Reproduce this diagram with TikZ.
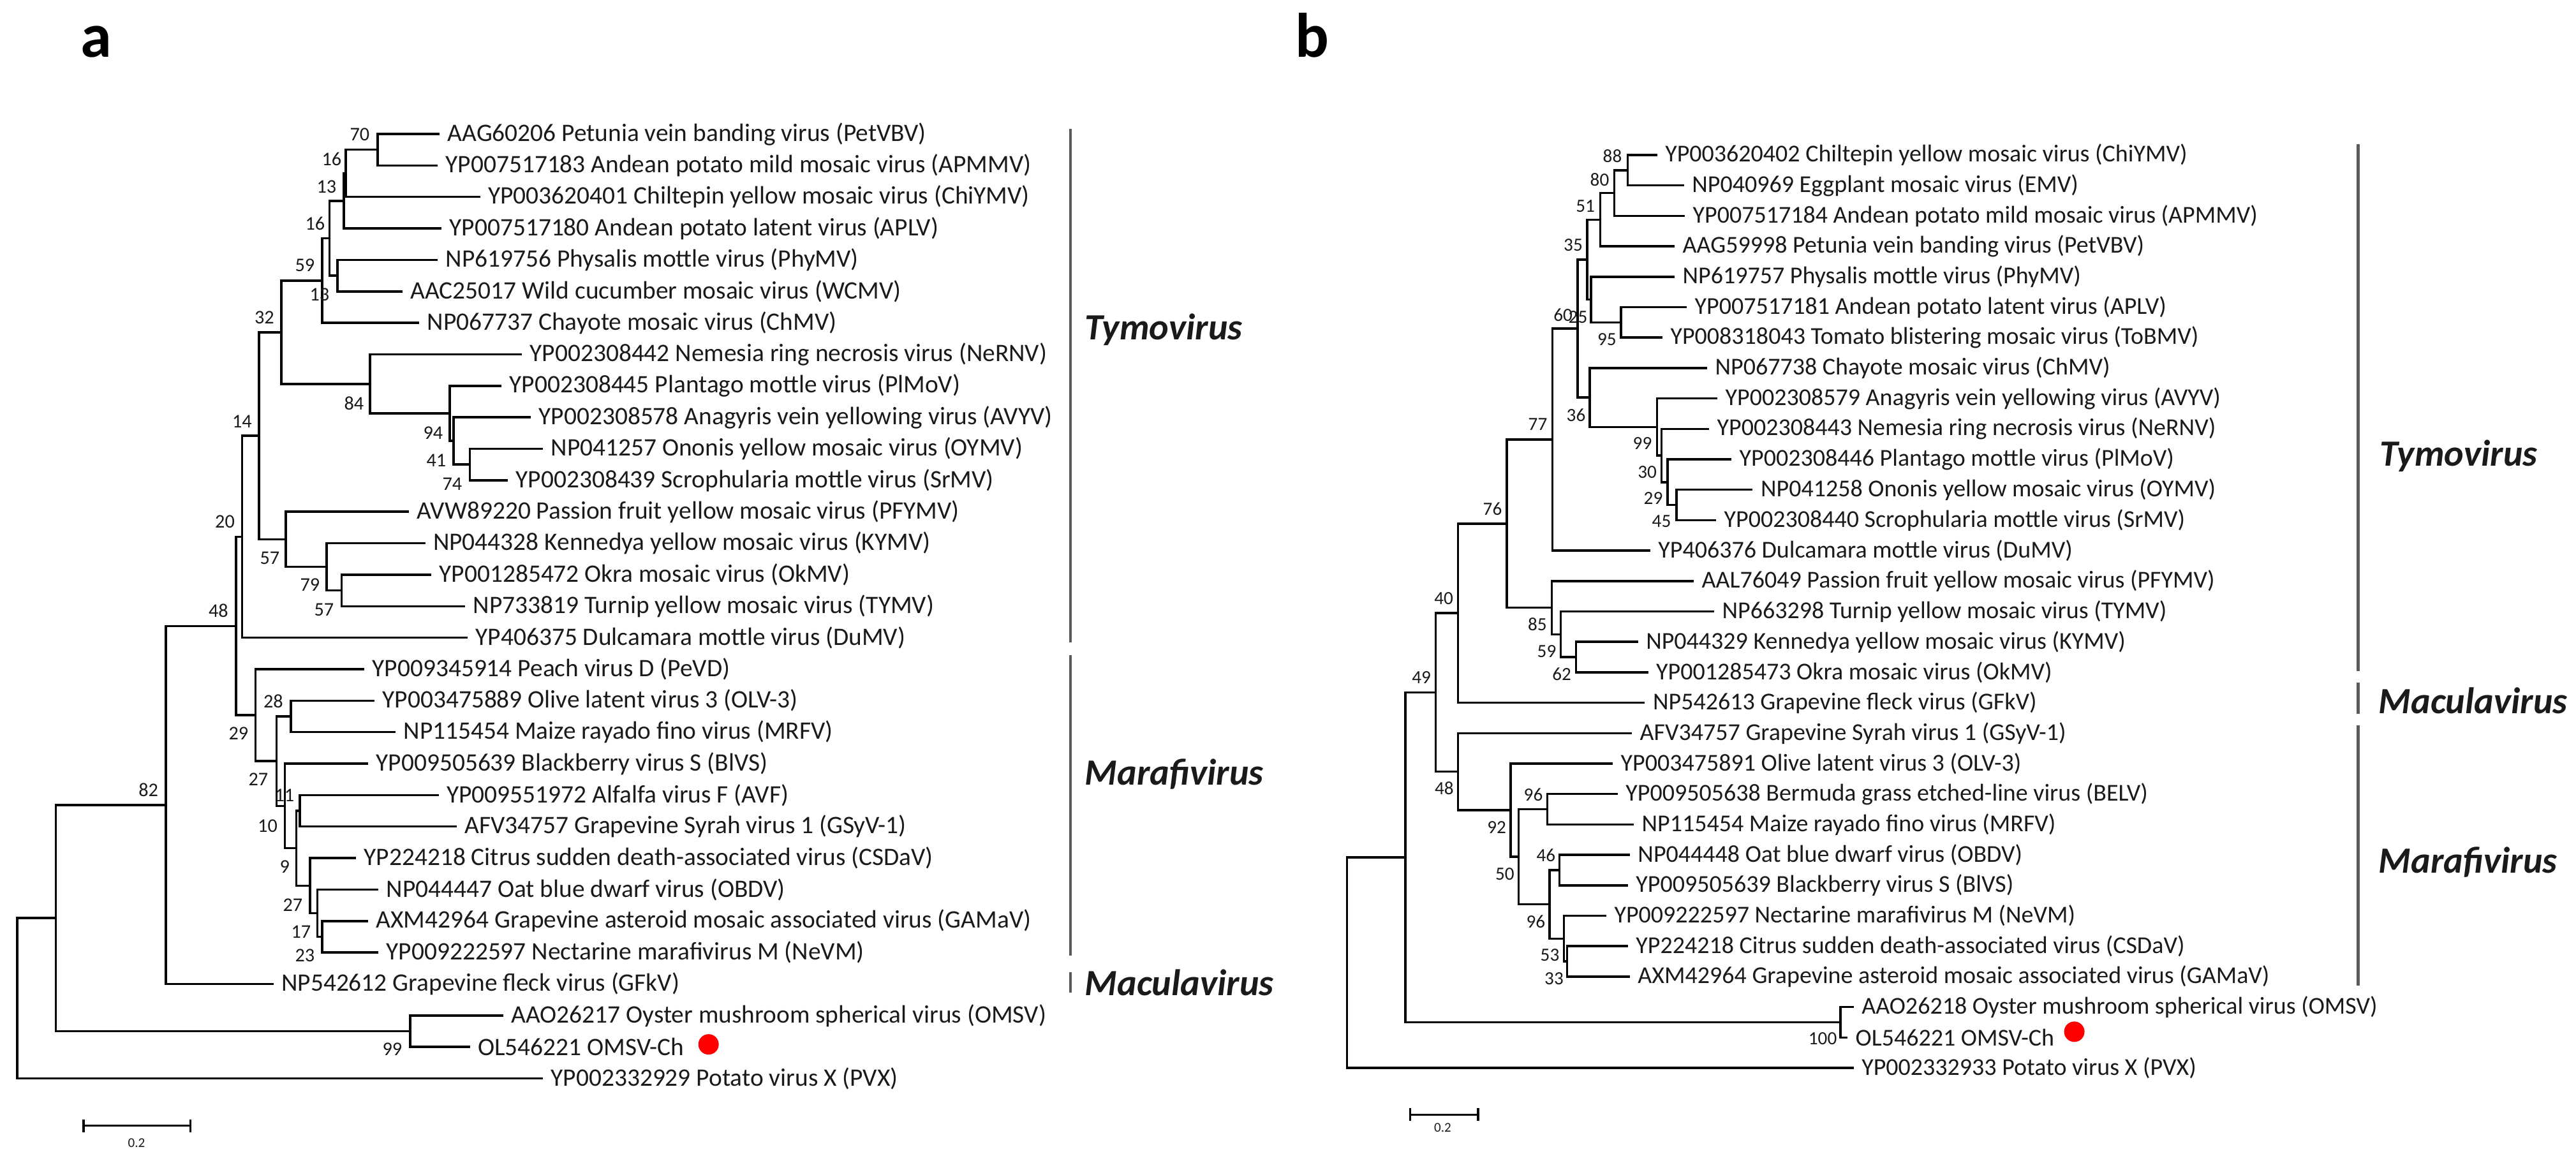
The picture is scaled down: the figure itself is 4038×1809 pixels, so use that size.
\documentclass[tikz,border=0pt]{standalone}
\usepackage{fontspec}
\setmainfont{Carlito}
\usetikzlibrary{positioning}
\definecolor{c_text}{HTML}{1A1A1A}
\definecolor{c_clade}{HTML}{5A5A5A}
\definecolor{c_dot}{HTML}{FF0000}

\begin{document}
\begin{tikzpicture}
[x=0.01cm,y=-0.01cm,
 branch/.style={draw=black,line width=1pt},
 leafa/.style={anchor=west,inner xsep=3.4pt,inner ysep=1pt,text=c_text,font=\fontsize{11.2}{13}\selectfont},
 leafb/.style={leafa,font=\fontsize{10.8}{13}\selectfont},
 boota/.style={anchor=east,inner sep=0pt,text=c_text,font=\fontsize{8.6}{10}\selectfont},
 bootb/.style={boota,font=\fontsize{8.3}{10}\selectfont},
 clade/.style={draw=c_clade,line width=1.4pt},
 genus/.style={anchor=west,inner sep=0pt,text=c_text,font=\fontsize{16.5}{18}\selectfont\bfseries\itshape},
 panel/.style={anchor=base west,inner sep=0pt,font=\fontsize{28}{30}\selectfont\bfseries},
 dot/.style={circle,fill=c_dot,inner sep=0pt,minimum size=0.32cm},
 scalebar/.style={draw=black,line width=1pt},
 scaletext/.style={inner sep=0pt,text=c_text,font=\fontsize{6}{7}\selectfont}]
	\useasboundingbox (0,0) rectangle (4038,1809);

	% panel letters
	\node[panel] (pa) at (126,90) {a};
	\node[panel] (pb) at (2030,90) {b};

	% ---------- tree a ----------
	\foreach \n/\x/\i/\t in {
		aPet/689/0/{AAG60206 Petunia vein banding virus (PetVBV)},
		aAPMMV/686/1/{YP007517183 Andean potato mild mosaic virus (APMMV)},
		aChiY/752.6/2/{YP003620401 Chiltepin yellow mosaic virus (ChiYMV)},
		aAPLV/692/3/{YP007517180 Andean potato latent virus (APLV)},
		aPhy/686/4/{NP619756 Physalis mottle virus (PhyMV)},
		aWCMV/631/5/{AAC25017 Wild cucumber mosaic virus (WCMV)},
		aChMV/657/6/{NP067737 Chayote mosaic virus (ChMV)},
		aNeRNV/818/7/{YP002308442 Nemesia ring necrosis virus (NeRNV)},
		aPlMoV/786/8/{YP002308445 Plantago mottle virus (PlMoV)},
		aAVYV/832/9/{YP002308578 Anagyris vein yellowing virus (AVYV)},
		aOYMV/851/10/{NP041257 Ononis yellow mosaic virus (OYMV)},
		aSrMV/796/11/{YP002308439 Scrophularia mottle virus (SrMV)},
		aPFYMV/641/12/{AVW89220 Passion fruit yellow mosaic virus (PFYMV)},
		aKYMV/666.5/13/{NP044328 Kennedya yellow mosaic virus (KYMV)},
		aOkMV/676/14/{YP001285472 Okra mosaic virus (OkMV)},
		aTYMV/729/15/{NP733819 Turnip yellow mosaic virus (TYMV)},
		aDuMV/733/16/{YP406375 Dulcamara mottle virus (DuMV)},
		aPeVD/571/17/{YP009345914 Peach virus D (PeVD)},
		aOLV/587/18/{YP003475889 Olive latent virus 3 (OLV-3)},
		aMRFV/620/19/{NP115454 Maize rayado fino virus (MRFV)},
		aBlVS/577/20/{YP009505639 Blackberry virus S (BlVS)},
		aAVF/687.5/21/{YP009551972 Alfalfa virus F (AVF)},
		aGSyV/715.6/22/{AFV34757 Grapevine Syrah virus 1 (GSyV-1)},
		aCSDaV/558/23/{YP224218 Citrus sudden death-associated virus (CSDaV)},
		aOBDV/593/24/{NP044447 Oat blue dwarf virus (OBDV)},
		aGAMaV/577/25/{AXM42964 Grapevine asteroid mosaic associated virus (GAMaV)},
		aNeVM/593/26/{YP009222597 Nectarine marafivirus M (NeVM)},
		aGFkV/428.6/27/{NP542612 Grapevine fleck virus (GFkV)},
		aOMSV/789/28/{AAO26217 Oyster mushroom spherical virus (OMSV)},
		aOMSVCh/736.6/29/{OL546221 OMSV-Ch},
		aPVX/851/30/{YP002332929 Potato virus X (PVX)}}
		\node[leafa] (\n) at (\x,{210+49.35*\i}) {\t};

	\foreach \n/\x/\y in {a70/592/234.7, a16a/542/271.7, a13a/539/314.9, a13b/529/432.1,
		a16b/516.6/373.5, a59/505/439.8, a74/736.6/728.2, a41/711/691.2, a94/705/648,
		a84/580/601.8, a32/441/520.8, a57b/535.7/925.6, a79/512/888.6, a57a/448/845.4,
		a14/406/683.1, a20/379.5/841.4, a28/456/1123, a23/505/1468.5, a17/497.4/1431.5,
		a27b/486/1388.3, a11/470/1271.1, a9/464.3/1329.7, a10/446.4/1263.4,
		a27a/433.7/1193.2, a29/400.5/1121.1, a48/370/981.3, a82/260/1261.9,
		a99/643/1616.5, aIn/87.4/1439.2, aRoot/26.8/1564.9}
		\coordinate (\n) at (\x,\y);

	\foreach \p/\c in {a70/aPet.west, a70/aAPMMV.west, a16a/a70, a16a/aChiY.west,
		a13a/a16a, a13a/aAPLV.west, a13b/aPhy.west, a13b/aWCMV.west,
		a16b/a13a, a16b/a13b, a59/a16b, a59/aChMV.west,
		a74/aOYMV.west, a74/aSrMV.west, a41/aAVYV.west, a41/a74,
		a94/aPlMoV.west, a94/a41, a84/aNeRNV.west, a84/a94, a32/a59, a32/a84,
		a57b/aOkMV.west, a57b/aTYMV.west, a79/aKYMV.west, a79/a57b,
		a57a/aPFYMV.west, a57a/a79, a14/a32, a14/a57a, a20/a14, a20/aDuMV.west,
		a28/aOLV.west, a28/aMRFV.west, a23/aGAMaV.west, a23/aNeVM.west,
		a17/aOBDV.west, a17/a23, a27b/aCSDaV.west, a27b/a17,
		a11/aAVF.west, a11/aGSyV.west, a9/a11, a9/a27b, a10/aBlVS.west, a10/a9,
		a27a/a28, a27a/a10, a29/aPeVD.west, a29/a27a, a48/a20, a48/a29,
		a82/a48, a82/aGFkV.west, a99/aOMSV.west, a99/aOMSVCh.west,
		aIn/a82, aIn/a99, aRoot/aIn, aRoot/aPVX.west}
		\draw[branch] (\p) |- (\c);

	% bootstrap values a
	\foreach \n/\x/\y/\v in {la1/580/211/70, la2/536/249/16, la3/528/293/13, la4/510/350/16,
		la5/494/416/59, la6/517/462/13, la7/430.5/497.5/32, la8/571/632/84, la9/395.4/661/14,
		la10/695/679/94, la11/700/721.5/41, la12/725/758.6/74, la13/368.6/818/20,
		la14/439/875/57, la15/502/917/79, la16/524/955.7/57, la17/358.4/957.6/48,
		la18/444.5/1099/28, la19/390/1149.7/29, la20/421/1222/27, la21/462/1247/11,
		la22/435.6/1294.4/10, la23/454.7/1358.6/9, la24/475/1418.7/27, la25/488/1460.3/17,
		la26/494/1497.8/23, la27/248.7/1238/82, la28/631/1644.8/99}
		\node[boota] (\n) at (\x,\y) {\v};

	\node[dot, right=0.09cm of aOMSVCh, yshift=0.04cm] (aDot) {};

	% clades a
	\coordinate (aTymoT) at (1678,202);
	\coordinate (aTymoB) at (1678,1007);
	\coordinate (aMaraT) at (1678,1027);
	\coordinate (aMaraB) at (1678,1498);
	\coordinate (aMacuT) at (1678,1524);
	\coordinate (aMacuB) at (1678,1556);
	\draw[clade] (aTymoT) -- (aTymoB);
	\draw[clade] (aMaraT) -- (aMaraB);
	\draw[clade] (aMacuT) -- (aMacuB);
	\node[genus] (aTymo) at (1700,517) {Tymovirus};
	\node[genus] (aMara) at (1700,1214) {Marafivirus};
	\node[genus] (aMacu) at (1700,1540) {Maculavirus};

	% scale a
	\coordinate (aBarL) at (131,1764.6);
	\coordinate (aBarR) at (298.5,1764.6);
	\draw[scalebar] (aBarL) -- (aBarR);
	\draw[scalebar] (aBarL) ++(0,-10) -- ++(0,20);
	\draw[scalebar] (aBarR) ++(0,-10) -- ++(0,20);
	\node[scaletext] (aBarLab) at (214,1792) {0.2};

	% ---------- tree b ----------
	\foreach \n/\x/\i/\t in {
		bChiY/2597.6/0/{YP003620402 Chiltepin yellow mosaic virus (ChiYMV)},
		bEMV/2639.7/1/{NP040969 Eggplant mosaic virus (EMV)},
		bAPMMV/2641/2/{YP007517184 Andean potato mild mosaic virus (APMMV)},
		bPet/2625/3/{AAG59998 Petunia vein banding virus (PetVBV)},
		bPhy/2625/4/{NP619757 Physalis mottle virus (PhyMV)},
		bAPLV/2644/5/{YP007517181 Andean potato latent virus (APLV)},
		bToBMV/2605.9/6/{YP008318043 Tomato blistering mosaic virus (ToBMV)},
		bChMV/2676/7/{NP067738 Chayote mosaic virus (ChMV)},
		bAVYV/2692/8/{YP002308579 Anagyris vein yellowing virus (AVYV)},
		bNeRNV/2679/9/{YP002308443 Nemesia ring necrosis virus (NeRNV)},
		bPlMoV/2714/10/{YP002308446 Plantago mottle virus (PlMoV)},
		bOYMV/2747.4/11/{NP041258 Ononis yellow mosaic virus (OYMV)},
		bSrMV/2690/12/{YP002308440 Scrophularia mottle virus (SrMV)},
		bDuMV/2586.7/13/{YP406376 Dulcamara mottle virus (DuMV)},
		bPFYMV/2655/14/{AAL76049 Passion fruit yellow mosaic virus (PFYMV)},
		bTYMV/2686.9/15/{NP663298 Turnip yellow mosaic virus (TYMV)},
		bKYMV/2567.6/16/{NP044329 Kennedya yellow mosaic virus (KYMV)},
		bOkMV/2583.5/17/{YP001285473 Okra mosaic virus (OkMV)},
		bGFkV/2578.4/18/{NP542613 Grapevine fleck virus (GFkV)},
		bGSyV/2558/19/{AFV34757 Grapevine Syrah virus 1 (GSyV-1)},
		bOLV/2528/20/{YP003475891 Olive latent virus 3 (OLV-3)},
		bBELV/2535.7/21/{YP009505638 Bermuda grass etched-line virus (BELV)},
		bMRFV/2561/22/{NP115454 Maize rayado fino virus (MRFV)},
		bOBDV/2554.8/23/{NP044448 Oat blue dwarf virus (OBDV)},
		bBlVS/2551.7/24/{YP009505639 Blackberry virus S (BlVS)},
		bNeVM/2517.9/25/{YP009222597 Nectarine marafivirus M (NeVM)},
		bCSDaV/2551.7/26/{YP224218 Citrus sudden death-associated virus (CSDaV)},
		bGAMaV/2554.8/27/{AXM42964 Grapevine asteroid mosaic associated virus (GAMaV)},
		bOMSV/2905.6/28/{AAO26218 Oyster mushroom spherical virus (OMSV)},
		bOMSVCh/2896/29/{OL546221 OMSV-Ch},
		bPVX/2905.6/30/{YP002332933 Potato virus X (PVX)}}
		\node[leafb] (\n) at (\x,{243+47.7*\i}) {\t};

	\foreach \n/\x/\y in {b88/2551.7/266.9, b80/2530.6/302.6, b51/2508.3/344.4,
		b95/2540.8/505.4, b25/2494/469.6, b35/2488/407, b45/2628/791.6, b29/2614/755.8,
		b30/2604.6/714.1, b99/2597.6/669.3, b36/2492/623.1, b60/2473/515.1,
		b77/2433.7/689.1, b62/2470.7/1030, b59/2446.4/994.3, b85/2432.4/952.5,
		b76/2362.2/820.8, b40/2285.7/961.2, b96a/2425.4/1268.5, b46/2444.5/1364,
		b33/2456.6/1507, b53/2451.5/1471.3, b96b/2429.2/1417.6, b50/2380.7/1343,
		b92/2368/1270, b48/2285.7/1209.6, b49/2250.6/1085.4, b100/2885.2/1602.5,
		bIn/2202.8/1344, bRoot/2111.6/1509}
		\coordinate (\n) at (\x,\y);

	\foreach \p/\c in {b88/bChiY.west, b88/bEMV.west, b80/b88, b80/bAPMMV.west,
		b51/b80, b51/bPet.west, b95/bAPLV.west, b95/bToBMV.west, b25/bPhy.west, b25/b95,
		b35/b51, b35/b25, b45/bOYMV.west, b45/bSrMV.west, b29/bPlMoV.west, b29/b45,
		b30/bNeRNV.west, b30/b29, b99/bAVYV.west, b99/b30, b36/bChMV.west, b36/b99,
		b60/b35, b60/b36, b77/b60, b77/bDuMV.west, b62/bKYMV.west, b62/bOkMV.west,
		b59/bTYMV.west, b59/b62, b85/bPFYMV.west, b85/b59, b76/b77, b76/b85,
		b40/b76, b40/bGFkV.west, b96a/bBELV.west, b96a/bMRFV.west,
		b46/bOBDV.west, b46/bBlVS.west, b33/bCSDaV.west, b33/bGAMaV.west,
		b53/bNeVM.west, b53/b33, b96b/b46, b96b/b53, b50/b96a, b50/b96b,
		b92/bOLV.west, b92/b50, b48/bGSyV.west, b48/b92, b49/b40, b49/b48,
		b100/bOMSV.west, b100/bOMSVCh.west, bIn/b49, bIn/b100, bRoot/bIn, bRoot/bPVX.west}
		\draw[branch] (\p) |- (\c);

	% bootstrap values b
	\foreach \n/\x/\y/\v in {lb1/2543/245/88, lb2/2523/281.3/80, lb3/2500.6/323.4/51,
		lb4/2481.5/384.6/35, lb5/2465.6/493.7/60, lb6/2489/496.7/25, lb7/2534.4/532/95,
		lb8/2486/650.3/36, lb9/2426/665.6/77, lb10/2590/695.4/99, lb11/2597.6/740.2/30,
		lb12/2607/781.5/29, lb13/2620/817/45, lb14/2355/798/76, lb15/2278.7/938.4/40,
		lb16/2425.4/978.6/85, lb17/2440/1020.7/59, lb18/2463.6/1057/62, lb19/2243.6/1062/49,
		lb20/2279.3/1235.6/48, lb21/2419/1245.6/96, lb22/2361.6/1296.7/92,
		lb23/2438.8/1340.5/46, lb24/2374.4/1370/50, lb25/2422.8/1444.5/96,
		lb26/2445/1497/53, lb27/2451.5/1534/33, lb28/2880/1628/100}
		\node[bootb] (\n) at (\x,\y) {\v};

	\node[dot, right=0.02cm of bOMSVCh, yshift=0.09cm] (bDot) {};

	% clades b
	\coordinate (bTymoT) at (3696.8,226);
	\coordinate (bTymoB) at (3696.8,1052);
	\coordinate (bMacuT) at (3696.8,1070);
	\coordinate (bMacuB) at (3696.8,1119);
	\coordinate (bMaraT) at (3696.8,1137);
	\coordinate (bMaraB) at (3696.8,1545);
	\draw[clade] (bTymoT) -- (bTymoB);
	\draw[clade] (bMacuT) -- (bMacuB);
	\draw[clade] (bMaraT) -- (bMaraB);
	\node[genus] (bTymo) at (3730,714.7) {Tymovirus};
	\node[genus] (bMacu) at (3728,1098) {Maculavirus};
	\node[genus] (bMara) at (3728,1351) {Marafivirus};

	% scale b
	\coordinate (bBarL) at (2210.5,1747.4);
	\coordinate (bBarR) at (2317,1747.4);
	\draw[scalebar] (bBarL) -- (bBarR);
	\draw[scalebar] (bBarL) ++(0,-10) -- ++(0,20);
	\draw[scalebar] (bBarR) ++(0,-10) -- ++(0,20);
	\node[scaletext] (bBarLab) at (2261.5,1768) {0.2};
\end{tikzpicture}
\end{document}
